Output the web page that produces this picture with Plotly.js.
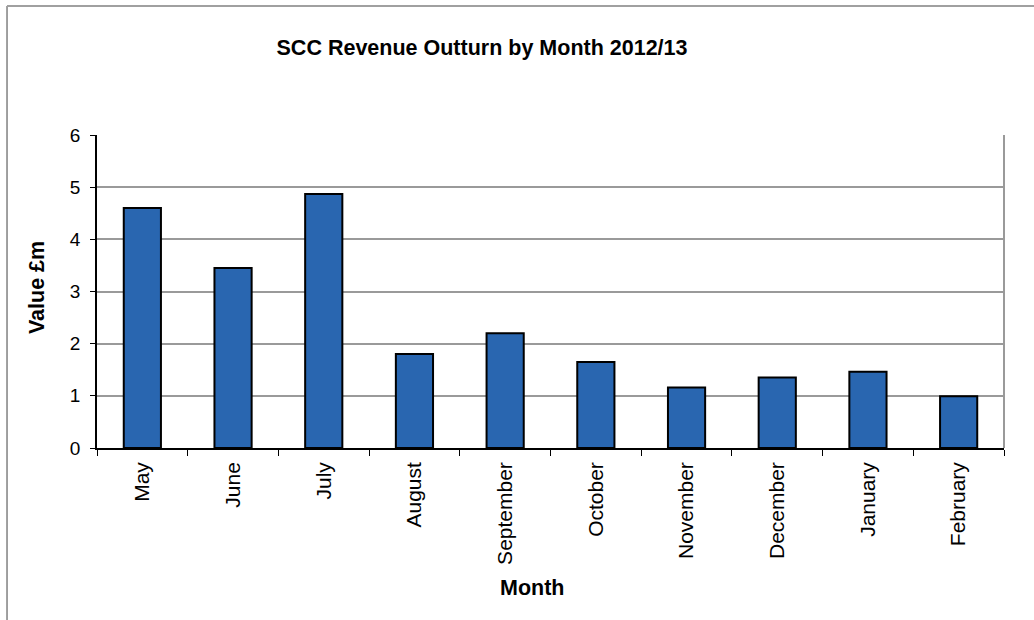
<!DOCTYPE html>
<html>
<head>
<meta charset="utf-8">
<script src="https://cdn.plot.ly/plotly-3.0.1.min.js"></script>
<style>body{margin:0;background:#fff}#chart{width:1034px;height:620px}</style>
</head>
<body>
<div id="chart"></div>
<script>
const months = ["May","June","July","August","September","October","November","December","January","February"];
const values = [4.60, 3.45, 4.87, 1.80, 2.20, 1.65, 1.16, 1.35, 1.46, 0.99];
const yTicks = [0,1,2,3,4,5,6];

const font = "Liberation Sans, Arial, sans-serif";

Plotly.newPlot("chart", [{
  type: "bar",
  x: months,
  y: values,
  marker: {color: "#2966B0", line: {color: "#000", width: 2}},
  hoverinfo: "x+y"
}], {
  width: 1034, height: 620,
  margin: {l: 97, r: 30, t: 135, b: 172},
  paper_bgcolor: "#fff", plot_bgcolor: "#fff",
  bargap: 0.59,
  showlegend: false,
  font: {family: font, color: "#000", size: 16},
  title: {
    text: "<b>SCC Revenue Outturn by Month 2012/13</b>",
    font: {family: font, size: 21.5, color: "#000"},
    xref: "paper", x: 0.4245, xanchor: "center",
    yref: "container", y: 0.924, yanchor: "middle"
  },
  xaxis: {
    type: "category",
    tickangle: -90,
    tickson: "boundaries",
    ticks: "outside", ticklen: 6, tickcolor: "#000", tickwidth: 1,
    ticklabelstandoff: 4,
    showline: true, linecolor: "#000", linewidth: 1.5,
    showgrid: false,
    tickfont: {family: font, size: 21, color: "#000"}
  },
  yaxis: {
    range: [0, 6],
    tickvals: yTicks,
    ticks: "outside", ticklen: 5, tickcolor: "#000",
    ticklabelstandoff: 6,
    showline: true, linecolor: "#000", linewidth: 1.5,
    showgrid: true, gridcolor: "#9a9a9a", gridwidth: 1.5,
    zeroline: false,
    tickfont: {family: font, size: 19, color: "#000"}
  },
  annotations: [
    {text: "<b>Month</b>", xref: "paper", yref: "paper", x: 0.4796, y: -0.447,
     xanchor: "center", yanchor: "middle", showarrow: false,
     font: {family: font, size: 21.5, color: "#000"}},
    {text: "<b>Value £m</b>", xref: "paper", yref: "paper", x: -0.0662, y: 0.514,
     xanchor: "center", yanchor: "middle", showarrow: false, textangle: -90,
     font: {family: font, size: 21.5, color: "#000"}}
  ],
  shapes: [
    {type: "line", xref: "paper", yref: "paper", x0: 1, x1: 1, y0: 0, y1: 1, line: {color: "#9a9a9a", width: 2}},
    {type: "line", xref: "paper", yref: "paper", x0: -0.0992, x1: -0.0992, y0: -0.6, y1: 1.412, line: {color: "#808080", width: 1.5}},
    {type: "line", xref: "paper", yref: "paper", x0: -0.0992, x1: 1.1, y0: 1.412, y1: 1.412, line: {color: "#a0a0a0", width: 2}}
  ]
}, {displayModeBar: false});
</script>
</body>
</html>
